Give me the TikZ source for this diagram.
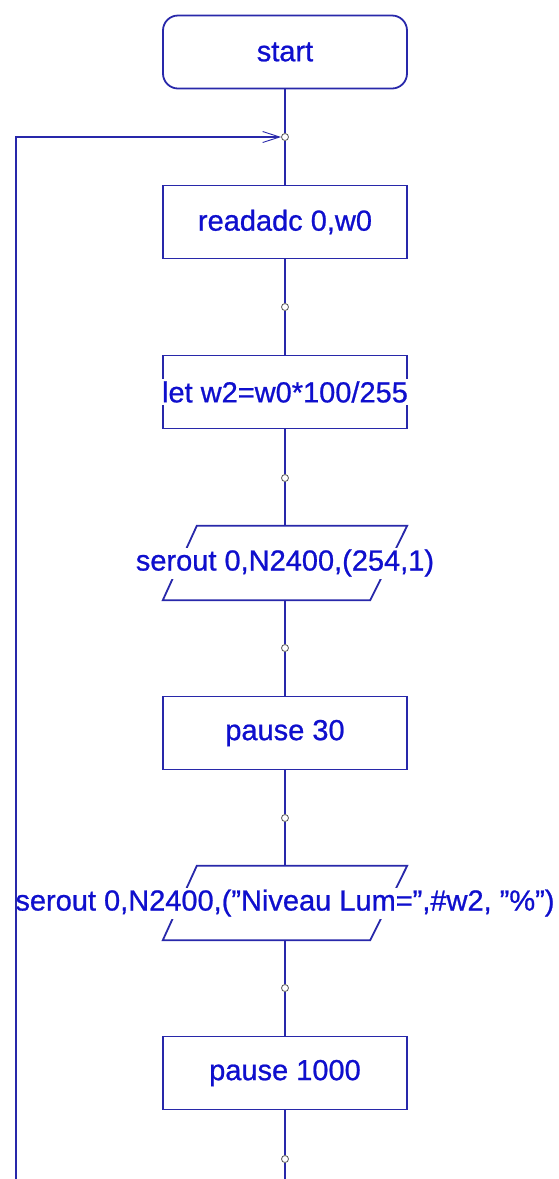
\documentclass[tikz,border=0pt]{standalone}
\usepackage{fontspec}
\setmainfont{Liberation Sans}[FakeBold=0.8]
\usetikzlibrary{arrows.meta}
\definecolor{lineblue}{RGB}{40,40,170}
\definecolor{textblue}{RGB}{15,15,205}
\newcommand{\dq}{\symbol{34}}
\begin{document}
\begin{tikzpicture}[x=1pt,y=-1pt,
  line/.style={draw=lineblue,line width=1.8pt},
  txt/.style={text=textblue,font=\fontsize{29}{32}\selectfont,inner sep=2pt},
  procbox/.style={line,fill=white,rectangle,minimum width=244pt,minimum height=73pt,inner sep=0pt},
  termbox/.style={procbox,rounded corners=15pt},
  parabox/.style={rectangle,minimum width=244pt,minimum height=74pt,inner sep=0pt},
  junc/.style={circle,draw=gray!70!black,line width=0.8pt,fill=white,minimum size=7pt,inner sep=0pt},
  loopback/.style={line,-{Straight Barb[length=17pt,width=11pt,line width=0.9pt]}}]
\path[use as bounding box,fill=white] (0,0) rectangle (559,1179);
% shapes
\node[termbox,txt] (start) at (285,52) {start};
\node[junc] (j0) at (285,137) {};
\node[procbox,txt] (read) at (285,222) {readadc 0,w0};
\node[junc] (j1) at (285,307) {};
\node[procbox] (let) at (285,392) {};
\node[junc] (j2) at (285,478) {};
\node[parabox] (s1) at (285,563) {};
\node[junc] (j3) at (285,648) {};
\node[procbox,txt] (p30) at (285,733) {pause 30};
\node[junc] (j4) at (285,818) {};
\node[parabox] (s2) at (285,903) {};
\node[junc] (j5) at (285,988) {};
\node[procbox,txt] (p1000) at (285,1073) {pause 1000};
\node[junc] (j6) at (285,1159) {};
\coordinate (bot) at (285,1179);
\coordinate (botL) at (16,1179);
% parallelograms
\draw[line,fill=white] ([xshift=34pt]s1.north west) -- (s1.north east) -- ([xshift=-37pt]s1.south east) -- (s1.south west) -- cycle;
\draw[line,fill=white] ([xshift=34pt]s2.north west) -- (s2.north east) -- ([xshift=-37pt]s2.south east) -- (s2.south west) -- cycle;
% texts over shapes
\node[txt,fill=white] (lett) at (let) {let w2=w0*100/255};
\node[txt,fill=white] (s1t) at (s1) {serout 0,N2400,(254,1)};
\node[txt,fill=white] (s2t) at (s2) {serout 0,N2400,(\dq Niveau Lum=\dq,\#w2, \dq\%\dq)};
% connectors
\draw[line] (start) -- (j0);
\draw[line] (j0) -- (read);
\draw[line] (read) -- (j1);
\draw[line] (j1) -- (let);
\draw[line] (let) -- (j2);
\draw[line] (j2) -- (s1.north);
\draw[line] (s1.south) -- (j3);
\draw[line] (j3) -- (p30);
\draw[line] (p30) -- (j4);
\draw[line] (j4) -- (s2.north);
\draw[line] (s2.south) -- (j5);
\draw[line] (j5) -- (p1000);
\draw[line] (p1000) -- (j6);
\draw[line] (j6) -- (bot);
\draw[loopback] (botL) |- (j0);
\end{tikzpicture}
\end{document}
